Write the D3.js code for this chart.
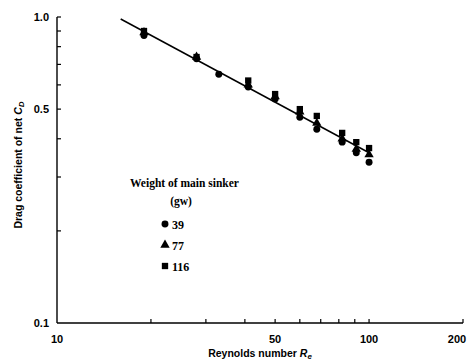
<!DOCTYPE html>
<html lang="en">
<head>
    <meta charset="UTF-8">
    <title>drag coefficient</title>
    <script src="https://cdn.jsdelivr.net/npm/d3@7"></script>
    <style>
        body{margin:0;background:#fff;}
    </style>
</head>
<body>
    <script>
             var width=470;
             var height=362;
             var margin={left:57,top:17,right:7,bottom:39};

             // data
             var reynolds=[19,28,33,41,50,60,68,82,91,100];
             var cd39=[0.87,0.73,0.65,0.59,0.54,0.47,0.43,0.39,0.36,0.335];
             var cd77=[0.89,0.74,null,0.60,0.55,0.49,0.45,0.40,0.37,0.355];
             var cd116=[0.90,0.74,null,0.62,0.56,0.50,0.475,0.418,0.39,0.373];
             var fitRe=[16,100];
             var fitCd=[0.985,0.36];
             var xTicks=[20,30,40,50,60,70,80,90,100,200];
             var xLabels=[10,50,100,200];
             var yTicks=[0.2,0.3,0.4,0.5,0.6,0.7,0.8,0.9,1.0];
             var yLabels=[0.1,0.5,1.0];
             var legendNames=["39","77","116"];

             var svg=d3.select("body").append("svg").attr("width",width).attr("height",height);

             var xScale=d3.scaleLog().domain([10,200]).range([margin.left,width-margin.right]);
             var yScale=d3.scaleLog().domain([0.1,1.0]).range([height-margin.bottom,margin.top]);

             //坐标轴
             var x0=margin.left, y0=height-margin.bottom;
             svg.append("line").attr("x1",x0).attr("x2",xScale(200)).attr("y1",y0).attr("y2",y0)
                     .attr("stroke","#000").attr("stroke-width",1.4);
             svg.append("line").attr("x1",x0).attr("x2",x0).attr("y1",y0).attr("y2",yScale(1))
                     .attr("stroke","#000").attr("stroke-width",1.4);

             svg.selectAll(".xt").data(xTicks).enter().append("line")
                     .attr("x1",function(d){return xScale(d);})
                     .attr("x2",function(d){return xScale(d);})
                     .attr("y1",y0).attr("y2",y0-4)
                     .attr("stroke","#000").attr("stroke-width",1.2);
             svg.selectAll(".yt").data(yTicks).enter().append("line")
                     .attr("x1",x0).attr("x2",x0+4)
                     .attr("y1",function(d){return yScale(d);})
                     .attr("y2",function(d){return yScale(d);})
                     .attr("stroke","#000").attr("stroke-width",1.2);

             var labelFont="'Liberation Sans',Arial,sans-serif";
             svg.selectAll(".xl").data(xLabels).enter().append("text")
                     .attr("x",function(d){return Math.min(xScale(d),width-13);})
                     .attr("y",y0+20)
                     .attr("text-anchor","middle")
                     .attr("font-family",labelFont).attr("font-weight","bold").attr("font-size",11)
                     .text(function(d){return d;});
             svg.selectAll(".yl").data(yLabels).enter().append("text")
                     .attr("x",x0-8)
                     .attr("y",function(d){return yScale(d)+4;})
                     .attr("text-anchor","end")
                     .attr("font-family",labelFont).attr("font-weight","bold").attr("font-size",11)
                     .text(function(d){return d.toFixed(1);});

             //轴标题
             var xt=svg.append("text").attr("x",260).attr("y",357).attr("text-anchor","middle")
                     .attr("font-family",labelFont).attr("font-weight","bold").attr("font-size",10.5);
             xt.append("tspan").text("Reynolds number ");
             xt.append("tspan").attr("font-style","italic").text("R");
             xt.append("tspan").attr("font-style","italic").attr("font-size",8).attr("dy",2).text("e");

             var yt=svg.append("text").attr("transform","translate(22,165) rotate(-90)").attr("text-anchor","middle")
                     .attr("font-family",labelFont).attr("font-weight","bold").attr("font-size",10.5);
             yt.append("tspan").text("Drag coefficient of net ");
             yt.append("tspan").attr("font-style","italic").text("C");
             yt.append("tspan").attr("font-style","italic").attr("font-size",8).attr("dy",2).text("D");

             //回归线
             svg.append("line")
                     .attr("x1",xScale(fitRe[0])).attr("y1",yScale(fitCd[0]))
                     .attr("x2",xScale(fitRe[1])).attr("y2",yScale(fitCd[1]))
                     .attr("stroke","#000").attr("stroke-width",1.5);

             //数据点
             function pts(vals){
                 return reynolds.map(function(r,i){return {x:r,y:vals[i]};}).filter(function(d){return d.y!=null;});
             }
             var circle=d3.symbol().type(d3.symbolCircle).size(38);
             var tri=d3.symbol().type(d3.symbolTriangle).size(38);
             var sq=d3.symbol().type(d3.symbolSquare).size(40);

             svg.selectAll(".s116").data(pts(cd116)).enter().append("path")
                     .attr("d",sq).attr("fill","#000")
                     .attr("transform",function(d){return "translate("+xScale(d.x)+","+yScale(d.y)+")";});
             svg.selectAll(".s77").data(pts(cd77)).enter().append("path")
                     .attr("d",tri).attr("fill","#000")
                     .attr("transform",function(d){return "translate("+xScale(d.x)+","+yScale(d.y)+")";});
             svg.selectAll(".s39").data(pts(cd39)).enter().append("path")
                     .attr("d",circle).attr("fill","#000")
                     .attr("transform",function(d){return "translate("+xScale(d.x)+","+yScale(d.y)+")";});

             //图例
             var serif="'Liberation Serif','Times New Roman',serif";
             svg.append("text").attr("x",130).attr("y",187)
                     .attr("font-family",serif).attr("font-weight","bold").attr("font-size",11.5)
                     .text("Weight of main sinker");
             svg.append("text").attr("x",181).attr("y",205).attr("text-anchor","middle")
                     .attr("font-family",serif).attr("font-weight","bold").attr("font-size",11.5)
                     .text("(gw)");
             var shapes=[circle,tri,sq];
             legendNames.forEach(function(n,i){
                 var ly=224+i*21;
                 svg.append("path").attr("d",shapes[i]).attr("fill","#000")
                         .attr("transform","translate(165,"+ly+")");
                 svg.append("text").attr("x",172).attr("y",ly+4.5)
                         .attr("font-family",serif).attr("font-weight","bold").attr("font-size",12)
                         .text(n);
             });
    </script>
</body>
</html>
